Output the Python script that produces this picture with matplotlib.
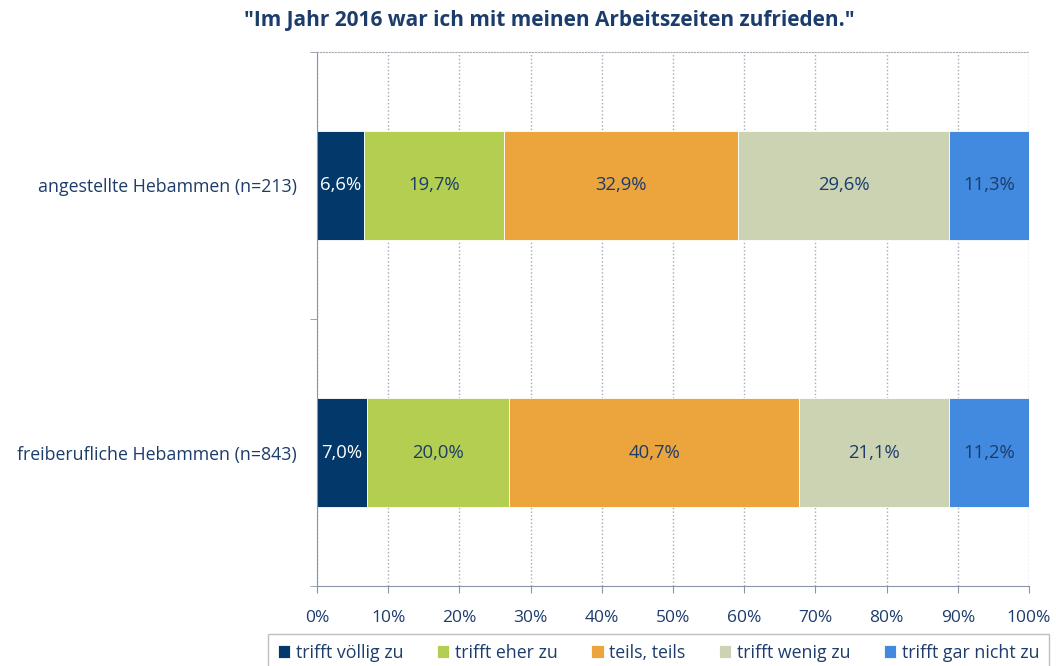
import numpy as np
import matplotlib.pyplot as plt
from matplotlib.ticker import MultipleLocator, FixedLocator

groups = ['freiberufliche Hebammen (n=843)', 'angestellte Hebammen (n=213)']
answers = ['trifft völlig zu', 'trifft eher zu', 'teils, teils',
           'trifft wenig zu', 'trifft gar nicht zu']
# values per answer, order matches groups
voellig = [7.0, 6.6]
eher = [20.0, 19.7]
teils = [40.7, 32.9]
wenig = [21.1, 29.6]
gar_nicht = [11.2, 11.3]
series = [voellig, eher, teils, wenig, gar_nicht]
colors = ['#02386A', '#B3CE50', '#ECA53C', '#CCD3B2', '#418ADF']
txt = '#1C3C6B'

plt.rcParams['font.family'] = ['Open Sans', 'DejaVu Sans']

fig = plt.figure(figsize=(10.56, 6.66), dpi=100)
ax = fig.add_axes([0.3002, 0.12, 0.6742, 0.802])

y = np.arange(len(groups))
left = np.zeros(len(groups))
for vals, col, name in zip(series, colors, answers):
    vals = np.array(vals)
    ax.barh(y, vals / 100, left=left / 100, height=0.405, color=col,
            edgecolor='white', linewidth=0.6, label=name)
    for yi, l, v in zip(y, left, vals):
        c = 'white' if col == '#02386A' else txt
        ax.text((l + v / 2) / 100, yi, f'{v:.1f}%'.replace('.', ','),
                ha='center', va='center', fontsize=13.3, color=c)
    left += vals

ax.set_xlim(0, 1)
ax.set_ylim(-0.5, 1.5)
ax.xaxis.set_major_locator(MultipleLocator(0.1))
ax.set_xticklabels([f'{int(round(t * 100))}%' for t in ax.get_xticks()])
ax.set_yticks(y)
ax.set_yticklabels(groups)
ax.yaxis.set_minor_locator(FixedLocator([-0.5, 0.5, 1.5]))
ax.tick_params(axis='y', which='major', length=0, pad=14.5, labelsize=12.8, labelcolor=txt)
ax.tick_params(axis='y', which='minor', length=5, color='#8A95A8', direction='out')
ax.tick_params(axis='x', length=5, color='#8A95A8', labelsize=12.5, labelcolor=txt, pad=12)

ax.grid(axis='x', linestyle=':', color='#A6A9B2', linewidth=1)
ax.set_axisbelow(True)
ax.spines['right'].set_visible(False)
ax.spines['top'].set_linestyle(':')
ax.spines['top'].set_color('#A6A9B2')
ax.spines['left'].set_color('#8A95A8')
ax.spines['bottom'].set_color('#8A95A8')

fig.suptitle('"Im Jahr 2016 war ich mit meinen Arbeitszeiten zufrieden."',
             x=0.52, y=0.985, fontsize=15, fontweight='bold', color=txt)

leg = fig.legend(loc='upper left', bbox_to_anchor=(268 / 1056, 1 - 634 / 666), ncol=5,
                 frameon=True, fancybox=False, fontsize=12.8, handlelength=0.7,
                 handleheight=0.7, handletextpad=0.3, columnspacing=1.9,
                 borderpad=0.55, borderaxespad=0)
leg.get_frame().set_edgecolor('#B0B0B0')
for t in leg.get_texts():
    t.set_color(txt)

fig.savefig('out.png', dpi=100)
